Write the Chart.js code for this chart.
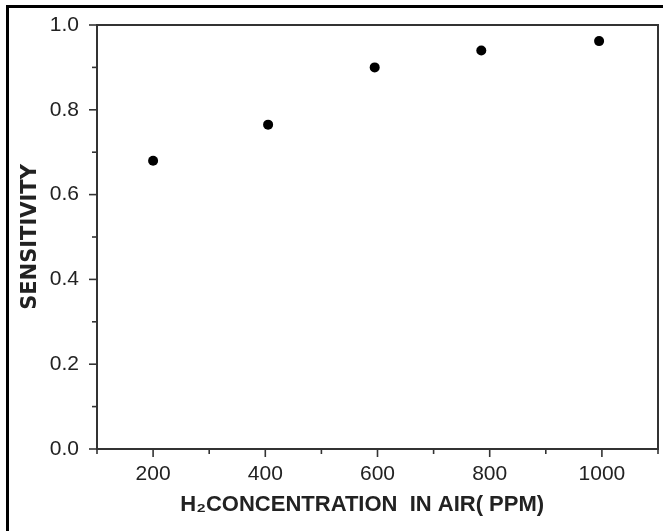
<!DOCTYPE html>
<html lang="en">
	<head>
		<meta charset="UTF-8" />
		<title>sensitivity vs H2 concentration</title>
		<script src="https://cdn.jsdelivr.net/npm/chart.js@4.4.0/dist/chart.umd.min.js"></script>
		<style>
			body { margin: 0; background: #fff; }
			#wrap { position: relative; width: 663px; height: 531px; overflow: hidden; }
			#frame {
				position: absolute; left: 6px; top: 5px; width: 700px; height: 600px;
				border-left: 3px solid #000; border-top: 3px solid #000; pointer-events: none;
			}
		</style>
	</head>
	<body>
		<div id="wrap">
			<canvas id="myChart" width="663" height="531"></canvas>
			<div id="frame"></div>
		</div>
	</body>
	<script>
		// data
		var concentration = [200, 405, 595, 785, 995];
		var sensitivity = [0.68, 0.765, 0.90, 0.94, 0.962];

		var xTicks = [100, 200, 300, 400, 500, 600, 700, 800, 900, 1000, 1100];
		var xMajor = [200, 400, 600, 800, 1000];
		var xLabels = ["200", "400", "600", "800", "1000"];
		var yTicks = [0, 0.1, 0.2, 0.3, 0.4, 0.5, 0.6, 0.7, 0.8, 0.9, 1.0];
		var yMajor = [0, 0.2, 0.4, 0.6, 0.8, 1.0];
		var yLabels = ["0.0", "0.2", "0.4", "0.6", "0.8", "1.0"];

		var ink = "#222";

		function labelFor(v, majors, labels) {
			for (var i = 0; i < majors.length; i++) {
				if (Math.abs(majors[i] - v) < 1e-6) return labels[i];
			}
			return "";
		}
		function isMajor(v, majors) {
			return labelFor(v, majors, majors.map(String)) !== "";
		}

		// box + outward tick marks, majors long, minors short
		var axesBox = {
			id: "axesBox",
			afterDraw: function (chart) {
				var ctx = chart.ctx;
				var a = chart.chartArea;
				var x = chart.scales.x;
				var y = chart.scales.y;
				ctx.save();
				ctx.strokeStyle = "#333";
				ctx.lineWidth = 1.6;
				xTicks.forEach(function (v) {
					var px = x.getPixelForValue(v);
					var len = isMajor(v, xMajor) ? 8 : 5;
					ctx.beginPath();
					ctx.moveTo(px, a.bottom);
					ctx.lineTo(px, a.bottom + len);
					ctx.stroke();
				});
				yTicks.forEach(function (v) {
					var py = y.getPixelForValue(v);
					var len = isMajor(v, yMajor) ? 8 : 5;
					ctx.beginPath();
					ctx.moveTo(a.left, py);
					ctx.lineTo(a.left - len, py);
					ctx.stroke();
				});
				ctx.lineWidth = 2;
				ctx.strokeRect(a.left, a.top, a.right - a.left, a.bottom - a.top);
				ctx.restore();
			},
		};

		var chart = new Chart(document.getElementById("myChart"), {
			type: "scatter",
			data: {
				datasets: [
					{
						data: concentration.map(function (c, i) {
							return { x: c, y: sensitivity[i] };
						}),
						backgroundColor: "#000",
						borderWidth: 0,
						pointRadius: 5,
					},
				],
			},
			options: {
				responsive: false,
				animation: false,
				layout: { padding: { top: 25, right: 5, left: 0, bottom: 0 } },
				plugins: { legend: { display: false }, tooltip: { enabled: false } },
				scales: {
					x: {
						type: "linear",
						min: 100,
						max: 1100,
						afterBuildTicks: function (s) {
							s.ticks = xTicks.map(function (v) { return { value: v }; });
						},
						afterFit: function (s) { s.height = 82; },
						grid: { display: true, drawOnChartArea: false, drawTicks: true, tickLength: 8, color: "rgba(0,0,0,0)" },
						border: { display: false },
						ticks: {
							autoSkip: false,
							maxRotation: 0,
							padding: 5,
							color: ink,
							font: { family: "'Liberation Sans', Arial", size: 21 },
							callback: function (v) { return labelFor(v, xMajor, xLabels); },
						},
						title: {
							display: true,
							text: "H\u2082CONCENTRATION  IN AIR( PPM)     ",
							color: ink,
							font: { family: "'Liberation Sans', Arial", size: 22, weight: "bold" },
							padding: { top: 0, bottom: 13 },
						},
					},
					y: {
						min: 0,
						max: 1,
						afterBuildTicks: function (s) {
							s.ticks = yTicks.map(function (v) { return { value: v }; });
						},
						afterFit: function (s) { s.width = 97; },
						grid: { display: true, drawOnChartArea: false, drawTicks: true, tickLength: 8, color: "rgba(0,0,0,0)" },
						border: { display: false },
						ticks: {
							autoSkip: false,
							padding: 10,
							color: ink,
							font: { family: "'Liberation Sans', Arial", size: 21 },
							callback: function (v) { return labelFor(v, yMajor, yLabels); },
						},
						title: {
							display: true,
							text: "SENSITIVITY",
							color: ink,
							font: { family: "'DejaVu Sans'", size: 21, weight: "bold" },
							padding: { top: 18, bottom: 0 },
						},
					},
				},
			},
			plugins: [axesBox],
		});
	</script>
</html>
